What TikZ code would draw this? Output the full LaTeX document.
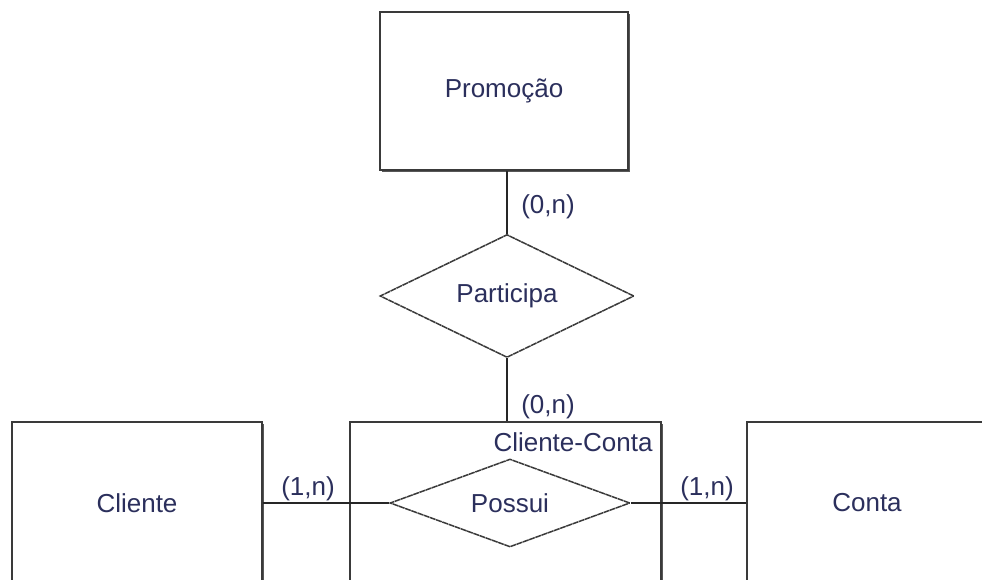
\documentclass[tikz,border=0pt]{standalone}
\usepackage{fontspec}
\setmainfont{Liberation Sans}
\usetikzlibrary{shapes.geometric,shadows}
\definecolor{txt}{HTML}{2B2F5C}
\definecolor{edge}{HTML}{3A3A3A}
\begin{document}
\begin{tikzpicture}[x=1pt,y=-1pt,
  lbl/.style={font=\fontsize{26}{30}\selectfont, text=txt, inner sep=0pt},
  entity/.style={lbl, draw=edge, line width=1.8pt, fill=white, rectangle,
    drop shadow={shadow xshift=2.2pt, shadow yshift=-2.2pt, opacity=0.85, fill=edge}},
  relation/.style={lbl, draw=edge, line width=1.5pt, fill=white, diamond, shape aspect=2.7, dash pattern=on 6pt off 0.6pt},
  conn/.style={draw=black!85, line width=1.6pt}]
\useasboundingbox (0,0) rectangle (982,579);
\clip (0,0) rectangle (982,579);
\fill[white] (0,0) rectangle (982,579);
% entities
\node[entity, minimum width=248pt, minimum height=158pt] (promo) at (504,91) {Promoção};
\node[entity, minimum width=250pt, minimum height=162pt] (cli) at (137,503) {Cliente};
\node[entity, minimum width=240pt, minimum height=162pt] (con) at (867,503) {Conta};
\node[entity, minimum width=311pt, minimum height=162pt] (cc) at (505.5,503) {};
% relationships
\node[relation, minimum width=254pt, minimum height=123pt] (part) at (507,296) {Participa};
\node[relation, minimum width=240pt, minimum height=88pt] (pos) at (510,503) {Possui};
% connectors
\draw[conn] (part.north) -- (part.north |- promo.south);
\draw[conn] (part.south) -- (part.south |- cc.north);
\draw[conn] (cli.east) -- (pos.west);
\draw[conn] (pos.east) -- (con.west);
% labels
\node[lbl] (c1) at (548,207) {(0,n)};
\node[lbl] (c2) at (548,407) {(0,n)};
\node[lbl] (c3) at (308,489) {(1,n)};
\node[lbl] (c4) at (707,489) {(1,n)};
\node[lbl] (ccl) at (573,442) {Cliente-Conta};
\end{tikzpicture}
\end{document}
